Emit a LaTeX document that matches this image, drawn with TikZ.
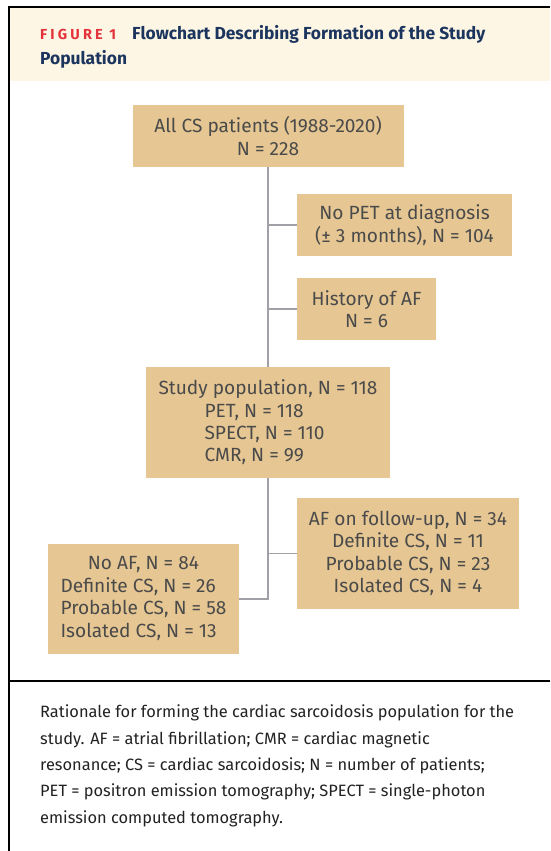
\documentclass[tikz,border=0pt]{standalone}
\usepackage{fontspec}
\setmainfont{Fira Sans}
\newfontfamily\figfont{Fira Sans}[LetterSpace=22]
\definecolor{headbg}{HTML}{FDF6E4}
\definecolor{boxfill}{HTML}{E6C793}
\definecolor{boxtext}{HTML}{4A4A4A}
\definecolor{connc}{HTML}{A0A0A6}
\definecolor{navy}{HTML}{1C355E}
\definecolor{figred}{HTML}{E4333B}
\definecolor{captext}{HTML}{222222}
\tikzset{
  fbox/.style={fill=boxfill, text=boxtext, inner sep=0pt, align=center,
    font=\fontsize{19.1}{22.4}\selectfont},
  conn/.style={draw=connc, line width=1.6pt},
  frame/.style={line width=2pt, draw=black}
}
\begin{document}
\begin{tikzpicture}[x=1pt,y=-1pt]
\useasboundingbox (0,0) rectangle (550,851);
% header band and frame
\fill[headbg] (9.5,8.5) rectangle (550,81);
\draw[frame] (550,7.5) -- (8.5,7.5) -- (8.5,851);
\draw[frame] (8.5,680.5) -- (550,680.5);
% title
\node[anchor=base west, inner sep=0pt, text=figred, font=\figfont\bfseries\fontsize{14.5}{16}\selectfont] (figlab) at (40,39.3) {FIGURE 1};
\node[anchor=base west, inner sep=0pt, text=navy, font=\bfseries\fontsize{17.4}{20}\selectfont] (title1) at (132,39.3) {Flowchart Describing Formation of the Study};
\node[anchor=base west, inner sep=0pt, text=navy, font=\bfseries\fontsize{17.4}{20}\selectfont] (title2) at (40,64) {Population};
% boxes
\node[fbox, minimum width=271pt, minimum height=62pt] (b1) at (268,136) {All CS patients (1988-2020)\\N = 228};
\node[fbox, minimum width=215pt, minimum height=62pt] (b2) at (404.5,225) {No PET at diagnosis\\(± 3 months), N = 104};
\node[fbox, minimum width=139pt, minimum height=62pt] (b3) at (366.5,309) {History of AF\\N = 6};
\node[fbox, minimum width=244pt, minimum height=111pt, align=left] (b4) at (268,422.5) {Study population, N = 118\\\hspace*{46pt}PET, N = 118\\\hspace*{46pt}SPECT, N = 110\\\hspace*{46pt}CMR, N = 99};
\node[fbox, minimum width=191pt, minimum height=110pt] (b5) at (143.5,599) {\begin{tabular}{@{}l@{}}\multicolumn{1}{@{}c@{}}{No AF, N = 84}\\Definite CS, N = 26\\Probable CS, N = 58\\Isolated CS, N = 13\end{tabular}};
\node[fbox, minimum width=222pt, minimum height=111pt] (b6) at (408,553.5) {AF on follow-up, N = 34\\Definite CS, N = 11\\Probable CS, N = 23\\Isolated CS, N = 4};
% connectors
\draw[conn] (b1.south) -- (b4.north);
\draw[conn] (b1.south |- b2.west) -- (b2.west);
\draw[conn] (b1.south |- b3.west) -- (b3.west);
\draw[conn] (b4.south) |- (b5.east);
\draw[conn] (b4.south |- b6.west) -- (b6.west);
% caption
\node[anchor=base west, inner sep=0pt, align=left, text=captext, font=\fontsize{16.4}{26.3}\selectfont] (cap) at (40,823) {Rationale for forming the cardiac sarcoidosis population for the\\study. AF = atrial fibrillation; CMR = cardiac magnetic\\resonance; CS = cardiac sarcoidosis; N = number of patients;\\PET = positron emission tomography; SPECT = single-photon\\emission computed tomography.};
\end{tikzpicture}
\end{document}
